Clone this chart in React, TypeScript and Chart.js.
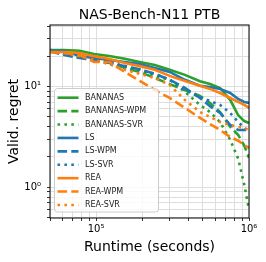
import React, { useEffect, useRef } from "react";
import { Chart, registerables } from "chart.js";
Chart.register(...registerables);

const titleText = "NAS-Bench-N11 PTB";
const xLabel = "Runtime (seconds)";
const yLabel = "Valid. regret";

const runtimes = [50000, 62000, 78000, 97000, 122000, 154000, 193000, 242000, 303000, 381000, 478000, 556000, 647000, 753000, 850000, 931000, 1000000];

const bananas = [23.1, 23.1, 22.7, 21.1, 20.2, 18.9, 17.6, 16.4, 14.7, 13.1, 11.3, 10.6, 9.7, 7.4, 5.2, 4.55, 4.36];
const bananasWpm = [23.1, 22.1, 19.7, 19.3, 17.6, 15.3, 14.0, 12.2, 10.6, 9.27, 8.1, 6.89, 5.6, 4.0, 3.31, 2.6, 1.96];
const bananasSvr = [23.1, 21.6, 19.3, 18.4, 16.8, 15.3, 14.7, 12.8, 11.7, 8.9, 6.58, 5.6, 4.45, 2.96, 1.92, 1.06, 0.6];
const ls = [22.9, 22.6, 20.2, 19.3, 18.4, 17.6, 16.8, 15.3, 14.0, 11.7, 10.2, 9.9, 9.5, 8.65, 7.55, 7.05, 6.89];
const lsWpm = [22.6, 20.6, 19.3, 18.4, 17.2, 16.0, 14.9, 13.4, 11.7, 9.7, 7.72, 6.4, 5.48, 4.17, 3.71, 3.71, 3.62];
const lsSvr = [22.6, 21.1, 19.7, 18.8, 17.6, 16.0, 14.7, 13.4, 11.7, 9.27, 7.9, 7.2, 6.58, 5.48, 4.45, 3.89, 3.55];
const rea = [22.1, 22.1, 21.6, 20.1, 18.8, 17.2, 16.0, 14.7, 12.8, 11.4, 10.2, 9.5, 8.65, 7.72, 7.05, 6.58, 6.15];
const reaWpm = [22.1, 21.6, 20.6, 17.6, 17.6, 14.0, 11.4, 9.27, 7.72, 6.15, 4.89, 4.25, 3.71, 3.16, 2.9, 2.63, 2.46];
const reaSvr = [22.1, 21.6, 20.1, 18.4, 16.8, 14.7, 13.4, 12.2, 10.4, 7.38, 5.6, 5.0, 4.45, 4.17, 3.98, 3.89, 3.71];

const seriesNames = ["BANANAS", "BANANAS-WPM", "BANANAS-SVR", "LS", "LS-WPM", "LS-SVR", "REA", "REA-WPM", "REA-SVR"];
const seriesValues = [bananas, bananasWpm, bananasSvr, ls, lsWpm, lsSvr, rea, reaWpm, reaSvr];

const xTicks = [50000, 60000, 70000, 80000, 90000, 100000, 200000, 300000, 400000, 500000, 600000, 700000, 800000, 900000, 1000000];
const yTicks = [0.5, 0.6, 0.7, 0.8, 0.9, 1, 2, 3, 4, 5, 6, 7, 8, 9, 10, 20, 30, 40];
const xMajorLabels: Record<number, string> = { 100000: "10\u2075", 1000000: "10\u2076" };
const yMajorLabels: Record<number, string> = { 1: "10\u2070", 10: "10\u00b9" };

const GREEN = "#2ca02c";
const BLUE = "#1f77b4";
const ORANGE = "#ff7f0e";
const LW = 2.6;
const colors = [GREEN, GREEN, GREEN, BLUE, BLUE, BLUE, ORANGE, ORANGE, ORANGE];
const dashes = [[], [9.6, 4.2], [2.6, 4.3]];
const FONT = "'DejaVu Sans', sans-serif";

export default function App() {
  const ref = useRef<HTMLCanvasElement | null>(null);
  useEffect(() => {
    const canvas = ref.current!;
    const datasets = seriesValues.map((vals, i) => ({
      label: seriesNames[i],
      data: vals.map((v, j) => ({ x: runtimes[j], y: v })),
      borderColor: colors[i],
      backgroundColor: colors[i],
      borderWidth: LW,
      borderDash: dashes[i % 3],
      pointRadius: 0,
      fill: false,
      tension: 0,
      order: 8 - i,
    }));

    const decor = {
      id: "decor",
      afterDatasetsDraw(chart: any) {
        const ctx = chart.ctx;
        const a = chart.chartArea;
        ctx.save();
        ctx.strokeStyle = "#000";
        ctx.lineWidth = 1;
        ctx.strokeRect(a.left, a.top, a.right - a.left, a.bottom - a.top);

        // legend
        const lx = 54.5, ly = 88.5, lw = 104, lh = 123.5, r = 3;
        ctx.beginPath();
        ctx.moveTo(lx + r, ly);
        ctx.lineTo(lx + lw - r, ly);
        ctx.quadraticCurveTo(lx + lw, ly, lx + lw, ly + r);
        ctx.lineTo(lx + lw, ly + lh - r);
        ctx.quadraticCurveTo(lx + lw, ly + lh, lx + lw - r, ly + lh);
        ctx.lineTo(lx + r, ly + lh);
        ctx.quadraticCurveTo(lx, ly + lh, lx, ly + lh - r);
        ctx.lineTo(lx, ly + r);
        ctx.quadraticCurveTo(lx, ly, lx + r, ly);
        ctx.closePath();
        ctx.fillStyle = "rgba(255,255,255,0.8)";
        ctx.fill();
        ctx.strokeStyle = "#cccccc";
        ctx.lineWidth = 1;
        ctx.stroke();

        ctx.font = `8px ${FONT}`;
        ctx.textBaseline = "middle";
        ctx.textAlign = "left";
        seriesNames.forEach((name, i) => {
          const y = 97.7 + i * 13.41;
          ctx.beginPath();
          ctx.setLineDash(dashes[i % 3]);
          ctx.strokeStyle = colors[i];
          ctx.lineWidth = LW;
          ctx.moveTo(57.5, y);
          ctx.lineTo(78.5, y);
          ctx.stroke();
          ctx.setLineDash([]);
          ctx.fillStyle = "#222";
          ctx.fillText(name, 85, y);
        });

        // titles
        ctx.fillStyle = "#000";
        ctx.font = `14px ${FONT}`;
        ctx.textAlign = "center";
        ctx.textBaseline = "alphabetic";
        const cx = (a.left + a.right) / 2;
        ctx.fillText(titleText, cx, 18.5);
        ctx.fillText(xLabel, cx, 250.5);
        ctx.translate(18, (a.top + a.bottom) / 2);
        ctx.rotate(-Math.PI / 2);
        ctx.fillText(yLabel, 0, 0);
        ctx.restore();
      },
    };

    const gridOpts = {
      color: "#dedede",
      lineWidth: 1,
      drawTicks: true,
      tickLength: 3,
      tickColor: "#000",
      tickWidth: 0.8,
    };

    const chart = new Chart(canvas, {
      type: "line",
      data: { datasets },
      plugins: [decor],
      options: {
        animation: false,
        responsive: false,
        devicePixelRatio: 1,
        layout: { padding: { left: 0, right: 17, top: 25, bottom: 0 } },
        plugins: { legend: { display: false }, title: { display: false }, tooltip: { enabled: false } },
        scales: {
          x: {
            type: "logarithmic",
            min: 50000,
            max: 1000000,
            border: { display: false },
            grid: gridOpts,
            afterBuildTicks: (s: any) => { s.ticks = xTicks.map((v) => ({ value: v })); },
            afterFit: (s: any) => { s.height = 44; },
            ticks: {
              autoSkip: false,
              maxRotation: 0,
              padding: 2,
              color: "#000",
              font: { family: FONT, size: 10 },
              callback: (v: any) => xMajorLabels[Number(v)] ?? "",
            },
          },
          y: {
            type: "logarithmic",
            min: 0.495,
            max: 41,
            border: { display: false },
            grid: gridOpts,
            afterBuildTicks: (s: any) => { s.ticks = yTicks.map((v) => ({ value: v })); },
            afterFit: (s: any) => { s.width = 50; },
            ticks: {
              autoSkip: false,
              padding: 6,
              color: "#000",
              font: { family: FONT, size: 10 },
              callback: (v: any) => yMajorLabels[Number(v)] ?? "",
            },
          },
        },
      },
    } as any);
    return () => chart.destroy();
  }, []);

  return (
    <div style={{ position: "absolute", left: 0, top: 0, width: 266, height: 262, background: "#fff" }}>
      <canvas ref={ref} width={266} height={262} style={{ display: "block", width: 266, height: 262 }} />
    </div>
  );
}
